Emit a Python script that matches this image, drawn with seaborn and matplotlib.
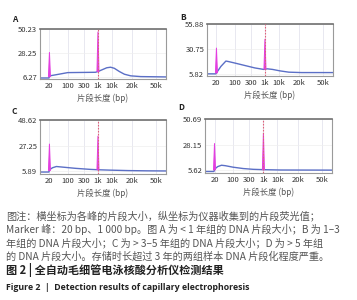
import matplotlib
matplotlib.use("Agg")
import matplotlib.pyplot as plt
import numpy as np
import pandas as pd
import seaborn as sns

sns.set_theme(style="white")
plt.rcParams['font.family'] = ['Noto Sans CJK SC', 'DejaVu Sans']
plt.rcParams['axes.unicode_minus'] = False

# ---- data (x = migration position on the ladder axis, 0-100) ----
tick_labels = ['20', '100', '300', '1k', '10k', '20k', '50k']
tick_pos = [7.5, 22, 35, 46, 57, 73, 92]

panels = ['A', 'B', 'C', 'D']
y_ticks = {
    'A': [6.27, 28.25, 50.23],
    'B': [5.82, 30.75, 55.88],
    'C': [5.89, 27.25, 48.62],
    'D': [5.62, 28.15, 50.69],
}
blue_x = {
    'A': [0, 7, 7.8, 15, 22, 44, 46, 49, 53, 56, 59, 63, 67, 72, 80, 100],
    'B': [0, 7, 7.8, 11, 15, 17, 22, 30, 38, 45, 46, 48, 52, 58, 65, 75, 100],
    'C': [0, 7, 7.8, 10, 13, 18, 28, 40, 46, 55, 70, 85, 100],
    'D': [0, 7, 7.8, 10, 13, 16, 22, 30, 38, 46, 60, 100],
}
blue_y = {
    'A': [5, 5, 7, 8.5, 10, 10.3, 11, 12.5, 14.5, 15, 14, 11, 8.5, 7, 6.3, 6],
    'B': [5.5, 5.5, 7, 13, 18.5, 18, 16.5, 14, 11.5, 10, 10.3, 10.6, 10, 8.5, 7.2, 6.8, 6.8],
    'C': [5.4, 5.4, 7.5, 9, 10, 9.5, 8.5, 7.6, 7.3, 7, 6.6, 6.4, 6.3],
    'D': [4.7, 4.7, 7, 9, 10.2, 9.8, 8.5, 7.3, 6.6, 6.3, 6, 5.9],
}
marker20_h = {'A': 29, 'B': 32, 'C': 29, 'D': 29.6}
marker1k_h = {'A': 48, 'B': 41, 'C': 35.6, 'D': 38.6}

# axes rectangles in pixels: left, top, width, height (fig 357x300)
rects = {
    'A': (40, 29, 126, 50),
    'B': (207, 24, 126, 52),
    'C': (40, 120, 126, 54),
    'D': (205, 119, 127, 54),
}
label_xy = {'A': (12, 20), 'B': (180, 17), 'C': (12, 111), 'D': (178, 108)}

W, H = 357, 300
fig = plt.figure(figsize=(W / 100, H / 100), dpi=100)
blue = '#5b6fc6'
magenta = '#e33fe0'

for p in panels:
    l, t, w, h = rects[p]
    ax = fig.add_axes([l / W, 1 - (t + h) / H, w / W, h / H])
    df = pd.DataFrame({'x': blue_x[p], 'y': blue_y[p]})
    sns.lineplot(data=df, x='x', y='y', ax=ax, color=blue, lw=1.0, sort=False)

    # marker peaks drawn as thin triangles above the trace
    for xm, hm in ((tick_pos[0], marker20_h[p]), (tick_pos[3], marker1k_h[p])):
        base = np.interp(xm, blue_x[p], blue_y[p])
        ax.fill([xm - 0.8, xm, xm + 0.8], [base, hm, base], color=magenta, lw=0.7,
                edgecolor=magenta, zorder=3)
    ax.axvline(tick_pos[3], color='#e0607a', lw=0.8, ls=(0, (1.5, 1.2)), zorder=4)

    lo, hi = y_ticks[p][0], y_ticks[p][-1]
    ax.set_ylim(lo - 0.05 * (hi - lo), hi + 0.005 * (hi - lo))
    ax.set_xlim(0, 100)
    ax.set_xticks(tick_pos)
    ax.set_xticklabels(tick_labels)
    ax.set_yticks(y_ticks[p])
    ax.set_yticklabels(['%.2f' % v for v in y_ticks[p]])
    ax.tick_params(axis='both', labelsize=5.5, length=0, pad=2, colors='#333333')
    ax.grid(True, axis='x', color='#e4e4ee', lw=0.6)
    ax.grid(True, axis='y', color='#eeeeee', lw=0.5)
    for s in ax.spines.values():
        s.set_color('#9a9a9a')
        s.set_linewidth(0.8)
    ax.spines['top'].set_color('#707070')
    ax.spines['top'].set_linewidth(1.2)
    ax.set_xlabel('片段长度 (bp)', fontsize=6, color='#555555', labelpad=3)
    ax.set_ylabel('')
    lx, ly = label_xy[p]
    fig.text(lx / W, 1 - ly / H, p, fontsize=6, fontweight='bold', color='#222222',
             ha='left', va='center')

caption = [
    '图注：横坐标为各峰的片段大小，纵坐标为仪器收集到的片段荧光值；',
    'Marker 峰：20 bp、1 000 bp。图 A 为 < 1 年组的 DNA 片段大小；B 为 1–3',
    '年组的 DNA 片段大小；C 为 > 3–5 年组的 DNA 片段大小；D 为 > 5 年组',
    '的 DNA 片段大小。存储时长超过 3 年的两组样本 DNA 片段化程度严重。',
]
cap_y = [216, 229.5, 243, 256.5]
for txt, yy in zip(caption, cap_y):
    fig.text(6 / W, 1 - yy / H, txt, fontsize=7.3, color='#555555', ha='left', va='center')
fig.text(6 / W, 1 - 270 / H, '图 2 | 全自动毛细管电泳核酸分析仪检测结果', fontsize=8,
         fontweight='bold', color='#222222', ha='left', va='center')
fig.text(6 / W, 1 - 287 / H, 'Figure 2  |  Detection results of capillary electrophoresis',
         fontsize=6.3, fontweight='bold', color='#222222', ha='left', va='center',
         family=['Open Sans', 'DejaVu Sans'])

fig.savefig('out.png', dpi=100, facecolor='white')
